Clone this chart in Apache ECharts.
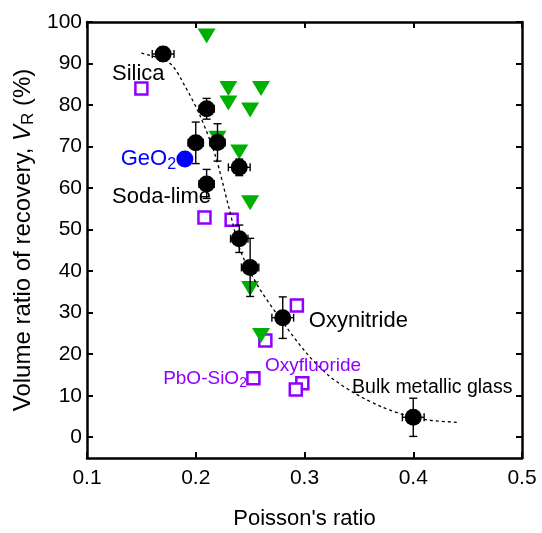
<!DOCTYPE html>
<html>
<head>
<meta charset="utf-8">
<script src="https://cdn.jsdelivr.net/npm/echarts@6/dist/echarts.min.js"></script>
<style>html,body{margin:0;padding:0;background:#fff}#c{width:542px;height:533px}</style>
</head>
<body>
<div id="c"></div>
<script>
// Black circles with error bars
const blackX = [0.17, 0.21, 0.20, 0.22, 0.24, 0.21, 0.24, 0.25, 0.28, 0.40];
const blackY = [92.3, 79.1, 70.9, 71.0, 65.0, 61.0, 47.8, 40.9, 28.8, 4.8];
const blackXErr = [0.01, 0.007, 0.007, 0.007, 0.01, 0.007, 0.008, 0.008, 0.01, 0.01];
const blackYErr = [1.7, 2.5, 5.0, 4.5, 2.0, 3.5, 3.3, 7.0, 5.0, 4.6];
// GeO2
const geoX = [0.19];
const geoY = [67.0];
// Green triangles
const greenX = [0.21, 0.23, 0.26, 0.23, 0.25, 0.22, 0.24, 0.25, 0.25, 0.26];
const greenY = [96.6, 84.0, 84.0, 80.5, 78.8, 72.0, 68.7, 56.5, 35.8, 24.5];
// Purple open squares
const purpleX = [0.15, 0.208, 0.233, 0.293, 0.264, 0.253, 0.298, 0.292];
const purpleY = [84.0, 52.9, 52.4, 31.7, 23.3, 14.2, 13.0, 11.5];
// Dashed fit curve
const curveX = [0.150, 0.176, 0.190, 0.204, 0.218, 0.230, 0.241, 0.257, 0.277, 0.302, 0.323, 0.346, 0.372, 0.397, 0.415, 0.440];
const curveY = [92.5, 90.1, 84.6, 77.4, 67.8, 55.8, 45.0, 36.5, 28.8, 20.2, 14.7, 10.6, 7.2, 5.0, 4.1, 3.6];
// Tick values
const xTicks = [0.1, 0.2, 0.3, 0.4, 0.5];
const yTicks = [0, 10, 20, 30, 40, 50, 60, 70, 80, 90, 100];
// Annotations
const annX = [0.123, 0.131, 0.123, 0.304, 0.2637, 0.170, 0.3437];
const annY = [87.5, 67.1, 57.9, 28.1, 17.3, 14.2, 12.0];
const annText = ['Silica', 'GeO{sub|2}', 'Soda-lime', 'Oxynitride', 'Oxyfluoride', 'PbO-SiO{psub|2}', 'Bulk metallic glass'];
const annColor = ['#000', '#0000FF', '#000', '#000', '#8F00FF', '#8F00FF', '#000'];
const annSize = [22, 22, 22, 22, 19, 19, 19.5];

const FONT = 'Liberation Sans, Arial, sans-serif';
const PURPLE = '#8F00FF';
const GREEN = '#00B000';

const chart = echarts.init(document.getElementById('c'));
const lineStyle = { color: '#000', width: 2.5 };

const errData = blackX.map((x, i) => [x, blackY[i], blackXErr[i], blackYErr[i]]);

const option = {
  animation: false,
  grid: { left: 87, right: 20, top: 22, bottom: 75, containLabel: false, outerBoundsMode: 'none' },
  xAxis: [{
    type: 'value', min: 0.1, max: 0.5, interval: 0.1,
    axisLine: { show: true, onZero: false, lineStyle },
    axisTick: { show: true, inside: true, length: 6, lineStyle: { color: '#000', width: 2 } },
    axisLabel: { fontSize: 21, color: '#000', fontFamily: FONT, margin: 10, formatter: v => v.toFixed(1) },
    splitLine: { show: false },
    name: "Poisson's ratio", nameLocation: 'middle', nameGap: 61, nameMoveOverlap: false,
    nameTextStyle: { fontSize: 22, color: '#000', fontFamily: FONT, verticalAlign: 'middle' }
  }, {
    type: 'value', position: 'top', min: 0.1, max: 0.5, interval: 0.1,
    axisLine: { show: true, onZero: false, lineStyle },
    axisTick: { show: true, inside: true, length: 6, lineStyle: { color: '#000', width: 2 } },
    axisLabel: { show: false }, splitLine: { show: false }
  }],
  yAxis: [{
    type: 'value', min: -5, max: 100,
    axisLine: { show: true, onZero: false, lineStyle },
    axisTick: { show: true, inside: true, length: 6, customValues: yTicks, lineStyle: { color: '#000', width: 2 } },
    axisLabel: { fontSize: 21, color: '#000', fontFamily: FONT, margin: 5, customValues: yTicks },
    splitLine: { show: false },
    name: 'Volume ratio of recovery, {i|V}{sub|R} (%)', nameLocation: 'middle', nameGap: 52, nameRotate: 90,
    nameMoveOverlap: false,
    nameTextStyle: {
      fontSize: 24, color: '#000', fontFamily: FONT, verticalAlign: 'bottom',
      rich: {
        i: { fontSize: 24, fontStyle: 'italic', color: '#000', fontFamily: FONT },
        sub: { fontSize: 17, color: '#000', fontFamily: FONT, padding: [0, 0, -10, 0] }
      }
    }
  }, {
    type: 'value', position: 'right', min: -5, max: 100,
    axisLine: { show: true, onZero: false, lineStyle },
    axisTick: { show: true, inside: true, length: 6, customValues: yTicks, lineStyle: { color: '#000', width: 2 } },
    axisLabel: { show: false }, splitLine: { show: false }
  }],
  series: [
    {
      type: 'scatter', name: 'purple', z: 2,
      data: purpleX.map((x, i) => [x, purpleY[i]]),
      symbol: 'rect', symbolSize: 12,
      itemStyle: { color: '#fff', borderColor: PURPLE, borderWidth: 2.5, opacity: 1 }
    },
    {
      type: 'scatter', name: 'green', z: 3,
      data: greenX.map((x, i) => [x, greenY[i]]),
      symbol: 'triangle', symbolRotate: 180, symbolSize: [18, 15],
      itemStyle: { color: GREEN, opacity: 1 }
    },
    {
      type: 'line', name: 'fit', z: 4,
      data: curveX.map((x, i) => [x, curveY[i]]),
      smooth: 0.3, showSymbol: false, symbol: 'none',
      lineStyle: { color: '#000', width: 1.3, type: [3, 3] }
    },
    {
      type: 'custom', name: 'err', z: 5,
      data: errData,
      renderItem: function (params, api) {
        const x = api.value(0), y = api.value(1), xe = api.value(2), ye = api.value(3);
        const top = api.coord([x, y + ye]);
        const bot = api.coord([x, y - ye]);
        const lft = api.coord([x - xe, y]);
        const rgt = api.coord([x + xe, y]);
        const c = 4;
        const st = { stroke: '#000', lineWidth: 1.4 };
        const L = (x1, y1, x2, y2) => ({ type: 'line', shape: { x1, y1, x2, y2 }, style: st });
        return {
          type: 'group',
          children: [
            L(top[0], top[1], bot[0], bot[1]),
            L(top[0] - c, top[1], top[0] + c, top[1]),
            L(bot[0] - c, bot[1], bot[0] + c, bot[1]),
            L(lft[0], lft[1], rgt[0], rgt[1]),
            L(lft[0], lft[1] - c, lft[0], lft[1] + c),
            L(rgt[0], rgt[1] - c, rgt[0], rgt[1] + c)
          ]
        };
      }
    },
    {
      type: 'scatter', name: 'black', z: 6,
      data: blackX.map((x, i) => [x, blackY[i]]),
      symbol: 'circle', symbolSize: 17,
      itemStyle: { color: '#000', opacity: 1 }
    },
    {
      type: 'scatter', name: 'GeO2', z: 6,
      data: geoX.map((x, i) => [x, geoY[i]]),
      symbol: 'circle', symbolSize: 17,
      itemStyle: { color: '#0000FF', opacity: 1 }
    },
    {
      type: 'scatter', name: 'labels', z: 7, silent: true,
      symbolSize: 0,
      itemStyle: { opacity: 1 },
      data: annX.map((x, i) => ({
        value: [x, annY[i]],
        label: {
          show: true, position: 'right', distance: 0,
          formatter: annText[i],
          color: annColor[i], fontSize: annSize[i], fontFamily: FONT,
          rich: {
            sub: { fontSize: 16, color: annColor[i], fontFamily: FONT, padding: [12, 0, 0, 0] },
            psub: { fontSize: 14, color: annColor[i], fontFamily: FONT, padding: [10, 0, 0, 0] }
          }
        }
      }))
    }
  ]
};
chart.setOption(option);
</script>
</body>
</html>
